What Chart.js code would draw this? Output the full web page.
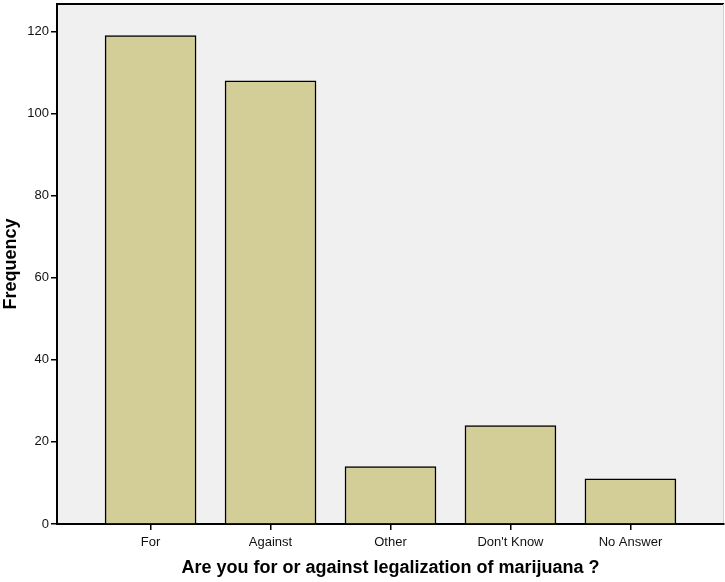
<!DOCTYPE html>
<html>
<head>
<meta charset="utf-8">
<script src="https://cdn.jsdelivr.net/npm/chart.js@4/dist/chart.umd.min.js"></script>
<style>
  html, body { margin: 0; padding: 0; background: #ffffff; }
  #wrap { width: 725px; height: 582px; }
</style>
</head>
<body>
<div id="wrap"><canvas id="c" width="725" height="582"></canvas></div>
<script>
const categories = ["For", "Against", "Other", "Don't Know", "No Answer"];
const frequencies = [119, 108, 14, 24, 11];
const yTicks = [0, 20, 40, 60, 80, 100, 120];
const xTitle = "Are you for or against legalization of marijuana ?";
const yTitle = "Frequency";

const points = categories.map((c, i) => ({ x: i, y: frequencies[i] }));

const plotBg = {
  id: 'plotBg',
  beforeDraw(chart) {
    const { ctx, chartArea: a } = chart;
    ctx.save();
    ctx.fillStyle = '#f0f0f0';
    ctx.fillRect(a.left, a.top, a.right - a.left, a.bottom - a.top);
    ctx.strokeStyle = '#000000';
    ctx.lineWidth = 2;
    ctx.beginPath();
    ctx.moveTo(a.left, a.top);
    ctx.lineTo(a.right, a.top);
    ctx.stroke();
    ctx.strokeStyle = '#d0d0d0';
    ctx.lineWidth = 1;
    ctx.beginPath();
    ctx.moveTo(a.right - 0.5, a.top);
    ctx.lineTo(a.right - 0.5, a.bottom);
    ctx.stroke();
    ctx.restore();
  }
};

function zeroPad(scale) {
  scale.paddingTop = 0; scale.paddingBottom = 0;
  scale.paddingLeft = 0; scale.paddingRight = 0;
}

const FONT = 'Liberation Sans, Arial, sans-serif';

new Chart(document.getElementById('c'), {
  type: 'bar',
  data: {
    datasets: [{
      data: points,
      backgroundColor: '#d3ce98',
      borderColor: '#000000',
      borderWidth: 1.5,
      borderSkipped: 'bottom',
      barThickness: 91
    }]
  },
  options: {
    responsive: false,
    animation: false,
    devicePixelRatio: 1,
    layout: { padding: { top: 4, right: 1, left: 0, bottom: 0 } },
    plugins: { legend: { display: false }, tooltip: { enabled: false } },
    scales: {
      x: {
        type: 'linear',
        offset: false,
        min: -0.78,
        max: 4.78,
        afterBuildTicks(scale) { scale.ticks = categories.map((c, i) => ({ value: i })); },
        afterFit(scale) { scale.height = 58; zeroPad(scale); },
        ticks: {
          callback: (v) => categories[v],
          color: '#111111',
          font: { family: FONT, size: 13 },
          padding: 5,
          maxRotation: 0,
          autoSkip: false
        },
        grid: { display: true, offset: false, drawOnChartArea: false, drawTicks: true, tickLength: 6, color: '#000000', lineWidth: 1.5 },
        border: { display: true, color: '#000000', width: 2 },
        title: {
          display: true,
          text: xTitle,
          color: '#000000',
          font: { family: FONT, size: 18, weight: 'bold' },
          padding: { top: 4, bottom: 3 }
        }
      },
      y: {
        min: 0,
        max: 126.7,
        afterBuildTicks(scale) { scale.ticks = yTicks.map(v => ({ value: v })); },
        afterFit(scale) { scale.width = 57; zeroPad(scale); },
        ticks: {
          color: '#111111',
          font: { family: FONT, size: 13 },
          padding: 2
        },
        grid: { display: true, drawOnChartArea: false, drawTicks: true, tickLength: 6, color: '#000000', lineWidth: 1.5 },
        border: { display: true, color: '#000000', width: 2 },
        title: {
          display: true,
          text: yTitle,
          color: '#000000',
          font: { family: FONT, size: 18, weight: 'bold' },
          padding: { top: 0, bottom: 0 }
        }
      }
    }
  },
  plugins: [plotBg]
});
</script>
</body>
</html>
